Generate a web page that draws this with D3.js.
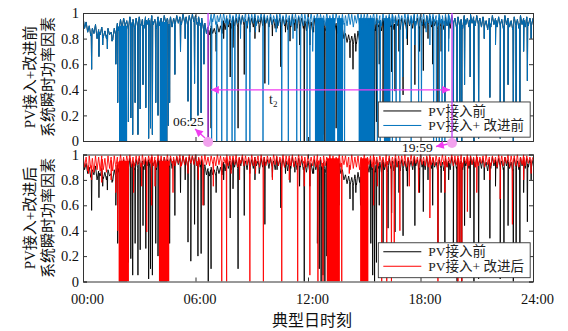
<!DOCTYPE html>
<html><head><meta charset="utf-8">
<script src="https://cdn.jsdelivr.net/npm/d3@7"></script>
<style>body{margin:0;background:#fff}svg{display:block}</style>
</head><body><svg id="c" width="568" height="331"></svg>
<script>
// ---------------- DATA ----------------
const xTickHours = [0, 6, 12, 18, 24];
const xTickLabels = ["00:00", "06:00", "12:00", "18:00", "24:00"];
const yTicks = [0, 0.2, 0.4, 0.6, 0.8, 1];
const yTickLabels = ["0", "0.2", "0.4", "0.6", "0.8", "1"];

// PV接入前 : 5-minute samples 00:00..24:00 (one row per hour)
const blackBase = [
0.97,0.88,0.93,0.85,0.90,0.82,0.88,0.84,0.91,0.80,0.87,0.83,
0.89,0.81,0.86,0.80,0.88,0.83,0.85,0.79,0.88,0.82,0.92,0.86,
0.95,0.88,0.96,0.90,0.94,0.87,0.97,0.90,0.95,0.88,0.96,0.89,
0.97,0.90,0.95,0.88,0.97,0.91,0.96,0.89,0.98,0.91,0.95,0.88,
0.97,0.90,0.96,0.89,0.98,0.92,0.96,0.90,0.97,0.89,0.96,0.91,
0.98,0.92,0.97,0.91,0.99,0.93,0.97,0.90,0.98,0.92,0.99,0.93,
0.98,0.91,0.97,0.90,0.96,0.88,0.92,0.84,0.89,0.83,0.90,0.84,
0.88,0.83,0.91,0.85,0.90,0.84,0.94,0.87,0.96,0.89,0.95,0.88,
0.97,0.90,0.96,0.89,0.97,0.91,0.98,0.90,0.95,0.88,0.97,0.90,
0.96,0.89,0.98,0.91,0.95,0.88,0.97,0.90,0.98,0.92,0.96,0.89,
0.97,0.90,0.95,0.88,0.98,0.91,0.96,0.89,0.97,0.90,0.95,0.87,
0.96,0.89,0.98,0.91,0.95,0.88,0.97,0.90,0.96,0.88,0.94,0.86,
0.95,0.87,0.93,0.85,0.96,0.88,0.94,0.86,0.96,0.88,0.94,0.85,
0.95,0.87,0.93,0.85,0.94,0.86,0.92,0.84,0.93,0.85,0.88,0.80,
0.84,0.77,0.83,0.76,0.82,0.75,0.84,0.76,0.86,0.78,0.90,0.83,
0.95,0.88,0.93,0.86,0.96,0.88,0.94,0.86,0.96,0.89,0.94,0.86,
0.96,0.88,0.94,0.86,0.97,0.89,0.95,0.87,0.97,0.90,0.95,0.87,
0.96,0.89,0.95,0.87,0.97,0.90,0.95,0.88,0.98,0.91,0.96,0.88,
0.97,0.90,0.95,0.88,0.98,0.91,0.96,0.89,0.97,0.90,0.94,0.87,
0.96,0.89,0.94,0.87,0.97,0.90,0.95,0.88,0.98,0.91,0.96,0.89,
0.97,0.90,0.95,0.88,0.98,0.91,0.96,0.89,0.99,0.92,0.97,0.90,
0.98,0.91,0.96,0.89,0.97,0.90,0.94,0.87,0.96,0.89,0.98,0.91,
0.96,0.89,0.97,0.90,0.95,0.88,0.98,0.91,0.96,0.89,0.94,0.87,
0.97,0.90,0.95,0.88,0.98,0.91,0.96,0.89,0.97,0.90,0.96,0.90,
0.96];
const blackSpikes = [
[0.46,0.56],[0.85,0.66],[1.05,0.75],[1.3,0.72],[1.55,0.78],[1.75,0.6],[1.85,0.3],[2.42,0.15],
[2.55,0.18],[2.65,0.05],[2.78,0.3],[2.93,0.05],[3.05,0.25],[3.2,0.44],[3.35,0.26],[3.5,0.02],
[3.6,0.1],[3.7,0.05],[3.88,0.3],[4.0,0.2],[4.55,0.12],[4.62,0.3],[4.9,0.52],[5.2,0.7],[5.45,0.8],
[5.6,0.31],[5.75,0.16],[5.95,0.45],[6.13,0.2],[6.3,0.22],[6.45,0.6],[6.68,0.0],[6.83,0.1],
[7.1,0.7],[7.5,0.8],[7.85,0.5],[8.0,0.73],[8.27,0.1],[8.6,0.52],[8.9,0.85],[9.17,0.8],[9.4,0.85],
[9.7,0.45],[10.1,0.82],[10.35,0.88],[10.55,0.58],[10.8,0.85],[11.04,0.78],[11.3,0.86],[11.55,0.75],
[11.8,0.0],[12.1,0.75],[12.3,0.85],[12.5,0.3],[12.6,0.1],[12.7,0.0],[12.8,0.05],[12.9,0.0],
[13.0,0.2],[13.1,0.45],[13.3,0.4],[13.5,0.1],[13.65,0.6],[14.24,0.65],[14.4,0.56],[14.55,0.7],
[14.8,0.6],[15.0,0.45],[15.35,0.3],[15.45,0.05],[15.55,0.0],[15.65,0.15],[15.8,0.6],[16.0,0.1],
[16.27,0.42],[16.46,0.54],[16.64,0.39],[16.85,0.7],[17.07,0.36],[17.3,0.75],[17.7,0.44],[17.95,0.7],
[18.15,0.55],[18.4,0.8],[18.65,0.6],[18.93,0.05],[19.1,0.7],[19.3,0.31],[19.5,0.8],[19.75,0.1],
[19.95,0.0],[20.1,0.05],[20.2,0.0],[20.35,0.44],[20.65,0.5],[20.85,0.0],[21.1,0.02],[21.4,0.8],
[21.7,0.34],[22.0,0.75],[22.25,0.02],[22.45,0.3],[22.67,0.44],[22.95,0.0],[23.1,0.05],[23.3,0.3],
[23.5,0.7],[23.7,0.47],[23.9,0.8]];
const blackBands = [[1.92,2.35,0,0.9],[4.1,4.5,0,0.93]];

// PV接入+改进前 : 5-minute samples 06:30..20:00 (equal to PV接入前 outside the marked interval)
const blueStart = 6.5;
const blueBase = [
0.99,0.92,1.00,0.91,0.99,0.93,
1.00,0.91,0.98,0.93,0.99,0.90,1.00,0.92,0.98,0.91,0.99,0.93,
0.98,0.90,1.00,0.92,0.99,0.91,0.98,0.93,1.00,0.90,0.99,0.92,
0.99,0.92,1.00,0.90,0.98,0.93,1.00,0.91,0.99,0.92,0.98,0.90,
1.00,0.91,0.98,0.93,0.99,0.90,1.00,0.92,0.98,0.91,0.99,0.93,
0.98,0.90,1.00,0.92,0.99,0.91,0.98,0.93,1.00,0.90,0.99,0.92,
0.99,0.91,1.00,0.90,0.98,0.92,1.00,0.91,0.99,0.93,0.98,0.90,
1.00,0.92,0.98,0.91,0.99,0.90,1.00,0.92,0.98,0.90,0.99,0.91,
0.98,0.90,1.00,0.91,0.99,0.89,0.98,0.92,1.00,0.90,0.99,0.92,
0.99,0.92,1.00,0.90,0.98,0.93,1.00,0.91,0.99,0.92,0.98,0.90,
1.00,0.91,0.98,0.92,0.99,0.90,1.00,0.92,0.98,0.91,0.99,0.93,
0.98,0.90,1.00,0.92,0.99,0.91,0.98,0.92,1.00,0.90,0.99,0.92,
0.99,0.91,1.00,0.90,0.98,0.92,1.00,0.91,0.99,0.93,0.98,0.90,
1.00,0.92,0.98,0.91,0.99,0.90,1.00,0.92,0.98,0.91,0.99,0.92,
0.99];
const blueSpikes = [
[6.86,0],[7.13,0],[7.4,0],[7.68,0],[7.95,0],[8.1,0],[8.4,0.8],[8.7,0],[8.9,0],[9.2,0.85],
[9.6,0],[9.9,0.44],[10.3,0.85],[10.6,0],[10.95,0],[11.2,0.8],[11.4,0],[11.6,0],[11.95,0],
[12.1,0],[12.25,0.7],[13.95,0],[15.7,0],[15.85,0],[16.5,0],[16.7,0],[16.9,0],[17.05,0.5],
[17.25,0.8],[17.5,0],[17.7,0.75],[17.9,0.3],[18.05,0.1],[18.3,0.85],[18.5,0.75],[18.7,0],
[18.85,0],[19.0,0],[19.15,0],[19.3,0],[19.5,0.7]];
const blueBands = [[12.37,12.85,0,0.96],[12.95,13.45,0,0.96],[13.55,13.87,0,0.96],[14.7,15.55,0,0.96],[16.05,16.4,0,0.96]];

// PV接入+改进后 : 5-minute samples 00:00..24:00 (one row per hour)
const redBase = [
1.00,0.90,0.98,0.87,0.99,0.89,0.97,0.86,0.99,0.88,0.98,0.87,
0.99,0.88,0.97,0.86,0.99,0.89,0.98,0.87,0.99,0.90,0.98,0.89,
1.00,0.91,0.98,0.90,0.99,0.92,1.00,0.90,0.98,0.91,0.99,0.92,
0.99,0.90,1.00,0.92,0.98,0.91,0.99,0.93,1.00,0.91,0.98,0.90,
1.00,0.92,0.99,0.90,0.98,0.92,1.00,0.91,0.99,0.93,0.98,0.91,
0.99,0.93,1.00,0.91,0.99,0.92,0.98,0.90,1.00,0.93,0.99,0.92,
1.00,0.91,0.98,0.92,0.99,0.90,1.00,0.92,0.98,0.91,0.99,0.93,
0.98,0.91,1.00,0.92,0.99,0.90,0.98,0.93,1.00,0.91,0.99,0.92,
0.99,0.92,1.00,0.90,0.98,0.93,1.00,0.91,0.99,0.92,0.98,0.90,
1.00,0.91,0.98,0.93,0.99,0.90,1.00,0.92,0.98,0.91,0.99,0.93,
0.98,0.90,1.00,0.92,0.99,0.91,0.98,0.93,1.00,0.90,0.99,0.92,
0.99,0.91,1.00,0.90,0.98,0.92,1.00,0.91,0.99,0.93,0.98,0.90,
1.00,0.92,0.98,0.91,0.99,0.90,1.00,0.92,0.98,0.90,0.99,0.91,
0.98,0.90,1.00,0.91,0.99,0.89,0.98,0.92,1.00,0.90,0.99,0.92,
0.99,0.90,0.98,0.88,1.00,0.89,0.98,0.90,0.99,0.88,0.98,0.91,
1.00,0.91,0.98,0.92,0.99,0.90,1.00,0.92,0.98,0.91,0.99,0.93,
0.98,0.90,1.00,0.92,0.99,0.91,0.98,0.92,1.00,0.90,0.99,0.92,
0.99,0.91,1.00,0.90,0.98,0.92,1.00,0.91,0.99,0.93,0.98,0.90,
1.00,0.92,0.98,0.91,0.99,0.90,1.00,0.92,0.98,0.91,0.99,0.92,
0.98,0.91,1.00,0.92,0.99,0.90,0.98,0.93,1.00,0.91,0.99,0.92,
0.99,0.92,1.00,0.90,0.98,0.93,1.00,0.91,0.99,0.92,0.98,0.90,
1.00,0.91,0.98,0.93,0.99,0.90,1.00,0.92,0.98,0.91,0.99,0.93,
0.98,0.90,1.00,0.92,0.99,0.91,0.98,0.93,1.00,0.90,0.99,0.92,
0.99,0.91,1.00,0.90,0.98,0.92,1.00,0.91,0.99,0.93,0.98,0.94,
0.98];
const redSpikes = [
[0.3,0.85],[0.46,0.8],[1.0,0.78],[1.5,0.8],[1.75,0.7],[1.85,0.4],[2.7,0.7],[3.13,0.75],[3.4,0.39],
[3.66,0.6],[3.84,0.75],[4.8,0.7],[5.2,0.9],[5.6,0.85],[6.15,0.8],[6.4,0.6],[6.95,0.75],[7.4,0],
[7.66,0],[7.9,0.85],[8.35,0.8],[8.9,0],[9.2,0.85],[9.62,0],[10.1,0.8],[10.6,0],[11.0,0.8],
[11.45,0],[11.8,0.75],[12.1,0.05],[12.53,0],[12.8,0],[13.8,0],[14.2,0.85],[15.5,0.6],[15.7,0.75],
[15.93,0],[16.2,0],[16.45,0],[16.6,0.1],[16.9,0.4],[17.4,0.75],[17.9,0.7],[18.5,0.5],[18.93,0],
[19.3,0.7],[20.0,0],[20.1,0.05],[20.2,0],[20.5,0.55],[21.0,0.7],[21.7,0.8],[22.25,0.65],[22.9,0.45],
[23.5,0.8],[23.9,0.85]];
const redBands = [[1.9,2.45,0,0.95],[4.05,4.6,0,0.95],[13.0,13.7,0,0.97],[14.78,15.22,0,0.97]];

// annotation: marked interval (as drawn) and its labels
const markHours = [6.67, 19.68];
const markLabels = ["06:25", "19:59"];
const spanLevel = 0.4;

const legendTop = ["PV接入前", "PV接入+ 改进前"];
const legendBot = ["PV接入前", "PV接入+ 改进后"];

// ---------------- DRAW ----------------
const FONT = "'Liberation Serif','Noto Sans CJK SC',serif";
const BLUE = "#0072bd", RED = "#ff0000", MAG = "#f03cf0";
const svg = d3.select("#c");
const x = d3.scaleLinear().domain([0, 24]).range([83, 533]);
const yTop = d3.scaleLinear().domain([0, 1]).range([141, 13]);
const yBot = d3.scaleLinear().domain([0, 1]).range([281.5, 154.5]);
const STEP = 1 / 12, SPIKE_W = 0.02;

function series(start, vals, spikes) {
  const base = vals.map((v, i) => [start + i * STEP, v]);
  const at = t => {
    const i = Math.max(0, Math.min(base.length - 2, Math.floor((t - start) / STEP)));
    const [t0, v0] = base[i], [t1, v1] = base[i + 1];
    return v0 + (v1 - v0) * (t - t0) / (t1 - t0);
  };
  const extra = [];
  spikes.forEach(([t, v]) => { extra.push([t - SPIKE_W, at(t - SPIKE_W)], [t, v], [t + SPIKE_W, at(t + SPIKE_W)]); });
  return base.concat(extra).sort((a, b) => a[0] - b[0]);
}
const blackPts = series(0, blackBase, blackSpikes);
const bluePtsIn = series(blueStart, blueBase, blueSpikes);
const [w0, w1] = markHours;
const bluePts = blackPts.filter(p => p[0] < w0)
  .concat(bluePtsIn.filter(p => p[0] >= w0 && p[0] <= w1), blackPts.filter(p => p[0] > w1));
const blueAllBands = blackBands.filter(b => b[1] < w0 || b[0] > w1).concat(blueBands);
const redPts = series(0, redBase, redSpikes);

const defs = svg.append("defs");
[["cTop", yTop], ["cBot", yBot]].forEach(([id, y]) => {
  defs.append("clipPath").attr("id", id).append("rect")
    .attr("x", x(0)).attr("y", y(1)).attr("width", x(24) - x(0)).attr("height", y(0) - y(1));
});
defs.append("marker").attr("id", "ah").attr("viewBox", "0 0 10 10").attr("refX", 10).attr("refY", 5)
  .attr("markerWidth", 7).attr("markerHeight", 6).attr("orient", "auto-start-reverse")
  .append("path").attr("d", "M0,0L10,5L0,10z").attr("fill", MAG);

function panel(y, clip, colPts, colBands, color, legendTexts, showXLabels) {
  const g = svg.append("g");
  const pg = g.append("g").attr("clip-path", `url(#${clip})`);
  const line = d3.line().x(d => x(d[0])).y(d => y(d[1]));
  const bandRects = (bands, c) => pg.append("g").selectAll("rect").data(bands).join("rect")
    .attr("x", d => x(d[0])).attr("width", d => x(d[1]) - x(d[0]))
    .attr("y", d => y(d[3])).attr("height", d => y(d[2]) - y(d[3])).attr("fill", c);
  bandRects(blackBands, "#000");
  pg.append("path").attr("d", line(blackPts)).attr("fill", "none").attr("stroke", "#000").attr("stroke-width", 0.9);
  bandRects(colBands, color);
  pg.append("path").attr("d", line(colPts)).attr("fill", "none").attr("stroke", color).attr("stroke-width", 0.9);

  const ax = g.append("g").attr("font-family", FONT);
  ax.append("g").attr("transform", `translate(${x(0)},0)`)
    .call(d3.axisLeft(y).tickValues(yTicks).tickFormat((d, i) => yTickLabels[i]).tickSize(-4).tickPadding(4));
  ax.append("g").attr("transform", `translate(${x(24)},0)`)
    .call(d3.axisRight(y).tickValues(yTicks).tickFormat("").tickSize(-4));
  const bottom = ax.append("g").attr("transform", `translate(0,${y(0)})`)
    .call(d3.axisBottom(x).tickValues(xTickHours).tickFormat((d, i) => showXLabels ? xTickLabels[i] : "").tickSize(-4).tickPadding(12));
  ax.append("g").attr("transform", `translate(0,${y(1)})`)
    .call(d3.axisTop(x).tickValues(xTickHours).tickFormat("").tickSize(-4));
  ax.selectAll("path.domain").attr("stroke", "#333").attr("stroke-width", 1);
  ax.selectAll(".tick line").attr("stroke", "#333");
  ax.selectAll("text").attr("font-size", 14.5).attr("fill", "#111").attr("font-family", FONT);
  bottom.selectAll("text").attr("dx", 4);

  const lg = g.append("g").attr("font-family", FONT);
  const lx0 = x(15.75), lx1 = x(23.85), ly0 = y(0.305), ly1 = y(0.03);
  lg.append("rect").attr("x", lx0).attr("y", ly0).attr("width", lx1 - lx0).attr("height", ly1 - ly0)
    .attr("fill", "#fff").attr("stroke", "#333").attr("stroke-width", 0.9);
  [["#000", legendTexts[0]], [color, legendTexts[1]]].forEach(([c, t], i) => {
    const yy = ly0 + 9 + i * 14.5;
    lg.append("line").attr("x1", lx0 + 5).attr("x2", lx0 + 43).attr("y1", yy).attr("y2", yy).attr("stroke", c).attr("stroke-width", 1);
    lg.append("text").attr("x", lx0 + 50).attr("y", yy).attr("dy", "0.35em").attr("font-size", 13.5).attr("fill", "#222").text(t);
  });
}

panel(yTop, "cTop", bluePts, blueAllBands, BLUE, legendTop, false);
panel(yBot, "cBot", redPts, redBands, RED, legendBot, true);

function ytitle(cy, l1, l2) {
  [[l1, 30], [l2, 48]].forEach(([t, cx]) => {
    svg.append("text").attr("transform", `translate(${cx},${cy}) rotate(-90)`)
      .attr("text-anchor", "middle").attr("dy", "0.35em").attr("font-family", FONT).attr("font-size", 15)
      .attr("fill", "#111").text(t);
  });
}
ytitle((yTop(0) + yTop(1)) / 2, "PV接入+改进前", "系统瞬时功率因素");
ytitle((yBot(0) + yBot(1)) / 2, "PV接入+改进后", "系统瞬时功率因素");
svg.append("text").attr("x", (x(0) + x(24)) / 2 + 4).attr("y", 320).attr("text-anchor", "middle").attr("dy", "0.35em")
  .attr("font-family", FONT).attr("font-size", 16).attr("fill", "#111").text("典型日时刻");

const an = svg.append("g");
markHours.forEach(h => {
  an.append("line").attr("x1", x(h)).attr("x2", x(h)).attr("y1", yTop(1)).attr("y2", yTop(0))
    .attr("stroke", "#c43cf5").attr("stroke-width", 1.3);
});
an.append("line").attr("x1", x(w0) + 3).attr("x2", x(w1) - 2).attr("y1", yTop(spanLevel)).attr("y2", yTop(spanLevel))
  .attr("stroke", MAG).attr("stroke-width", 1.3).attr("marker-start", "url(#ah)").attr("marker-end", "url(#ah)");
const tl = an.append("text").attr("x", x((w0 + w1) / 2) - 61).attr("y", yTop(spanLevel) + 14)
  .attr("font-family", FONT).attr("font-size", 14).attr("fill", "#222").text("t");
tl.append("tspan").attr("font-size", 9).attr("dy", 3).text("2");
an.append("line").attr("x1", x(w0) - 3).attr("y1", yTop(0) - 3).attr("x2", x(w0) - 13).attr("y2", yTop(0) - 12)
  .attr("stroke", MAG).attr("stroke-width", 1.3).attr("marker-end", "url(#ah)");
an.append("circle").attr("cx", x(w0)).attr("cy", yTop(0) + 1).attr("r", 5).attr("fill", "#f2a2ee");
an.append("text").attr("x", x(w0) - 35).attr("y", yTop(0) - 15).attr("font-family", FONT).attr("font-size", 13.5)
  .attr("fill", "#111").text(markLabels[0]);
an.append("line").attr("x1", x(w1) - 4).attr("y1", yTop(0) + 3).attr("x2", x(w1) - 16).attr("y2", yTop(0) + 5.5)
  .attr("stroke", MAG).attr("stroke-width", 1.3).attr("marker-end", "url(#ah)");
an.append("circle").attr("cx", x(w1)).attr("cy", yTop(0) + 2).attr("r", 5).attr("fill", "#f2a2ee");
an.append("text").attr("x", x(w1) - 50).attr("y", yTop(0) + 11).attr("font-family", FONT).attr("font-size", 13.5)
  .attr("fill", "#111").text(markLabels[1]);
</script></body></html>
